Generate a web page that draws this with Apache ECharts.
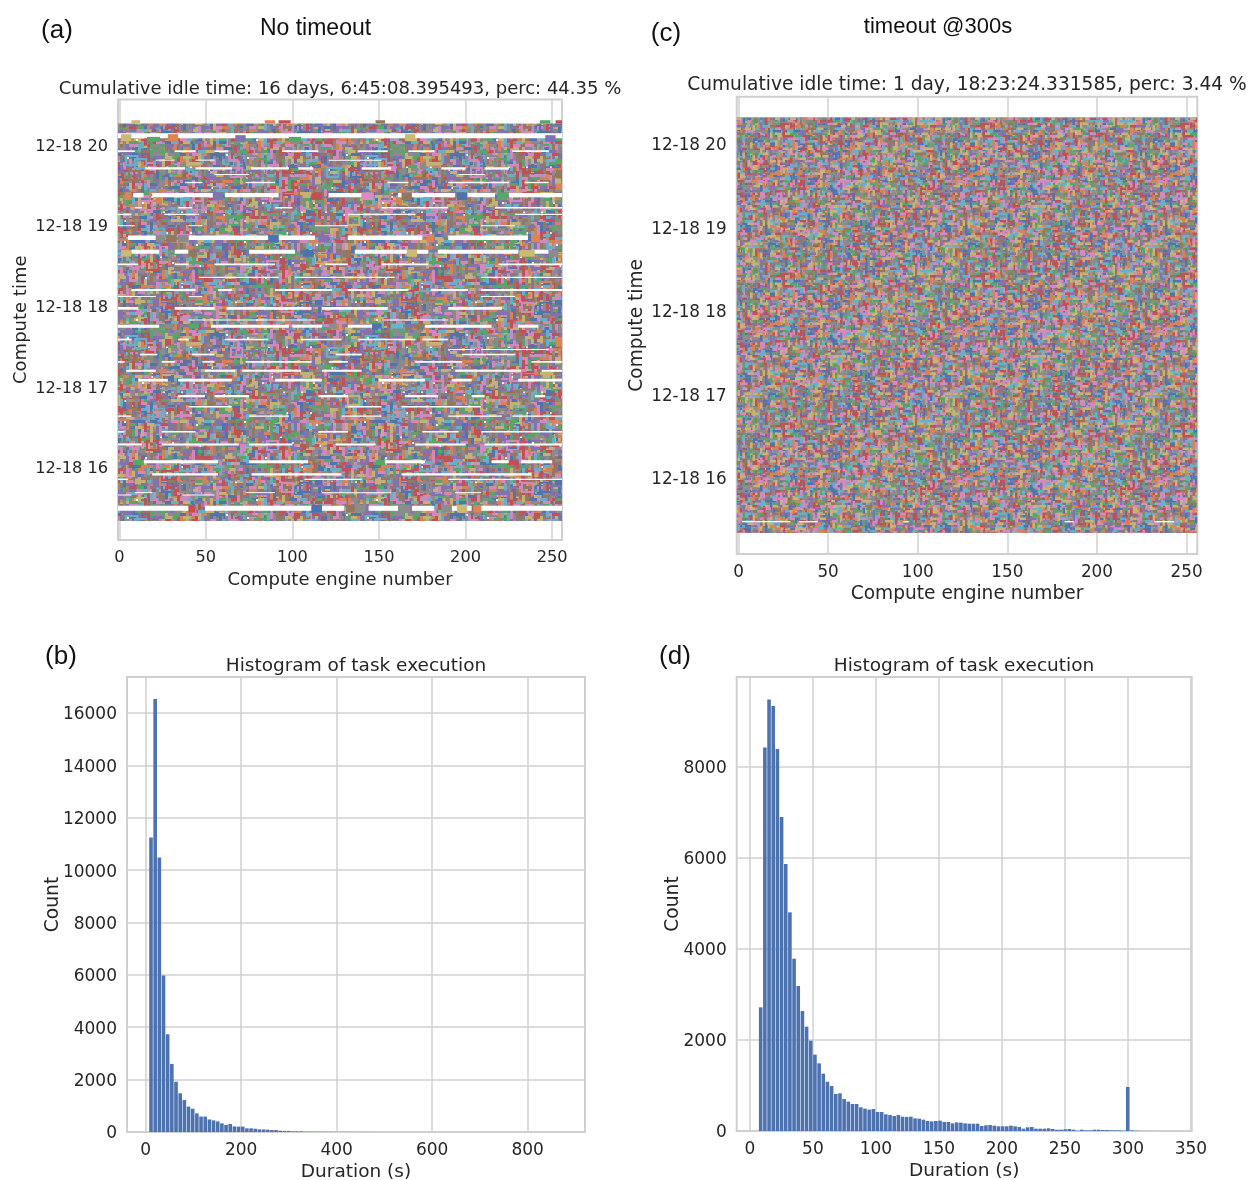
<!DOCTYPE html>
<html><head><meta charset="utf-8">
<style>html,body{margin:0;padding:0;background:#fff}#c{width:1251px;height:1180px}</style>
<script src="https://cdn.jsdelivr.net/npm/echarts@6/dist/echarts.min.js"></script>
</head><body><div id="c"></div>
<script>
// Tick values and labels
const engineTicks = [0, 50, 100, 150, 200, 250];
const hourTicks = [16, 17, 18, 19, 20];
const durationTicksB = [0, 200, 400, 600, 800];
const durationTicksD = [0, 50, 100, 150, 200, 250, 300, 350];
const countTicksB = [0, 2000, 4000, 6000, 8000, 10000, 12000, 14000, 16000];
const countTicksD = [0, 2000, 4000, 6000, 8000];

// Histogram counts (estimates)
const histStartB = 6.9, histBinB = 8.73;
const countsB = [11250,16530,10480,5980,3730,2600,1920,1480,1220,970,890,710,590,590,480,445,405,330,270,305,215,205,205,140,140,125,100,100,90,75,75,50,40,40,25,25,25,12,12,10,10,8,8,6,6,5,5,4,4,3,3,3,2,2,2,2,1,1,1,1,1,1,1,1,1,1,0,0,0,0,0,0,0,0,0,0,0,0,0,0,0,0,0,0,0,0,0,0,0,0,0,0,0,0,0,0,0,0,0,0];
const histStartD = 6.9, histBinD = 3.31;
const countsD = [2718,8430,9486,9340,8395,6901,5868,4806,3787,3187,2637,2293,1985,1678,1487,1260,1084,989,813,828,703,645,593,593,520,491,469,484,418,418,366,352,330,352,315,308,315,278,271,249,220,212,220,227,198,198,168,190,183,168,161,161,161,110,125,132,117,103,103,103,117,103,88,51,81,88,51,51,51,59,44,29,29,37,44,29,7,29,15,15,29,29,22,22,15,15,15,7,968,15,7,3,2,1,1,0,0,0,0,0];

// Busy extent of the task panels: [firstEngine, lastEngine, topHour, bottomHour]
const busyA = [[-0.75, 255.7, 20.272, 15.344]];
const busyC = [[-1, 256, 20.32, 15.34]];

// Panel (a) idle gaps: hour, thickness in hours, engine spans
const gapHoursA = [20.119,19.929,19.818,19.715,19.640,19.541,19.385,19.228,19.145,19.005,18.856,18.683,18.526,18.365,18.208,18.126,17.981,17.836,17.759,17.594,17.470,17.408,17.317,17.206,17.090,16.892,16.760,16.644,16.450,16.293,16.079,15.922,15.860,15.695,15.666,15.501];
const gapThickA = [.062,.021,.012,.029,.012,.017,.054,.017,.017,.012,.058,.050,.021,.017,.025,.012,.033,.012,.037,.021,.012,.021,.021,.025,.033,.029,.017,.017,.021,.025,.037,.029,.017,.012,.012,.062];
const gapSpansA = [
 [[-0.75,255.7]],
 [[-0.75,9],[32,44],[55,63],[94,115],[138,155],[167,182],[227,248]],
 [[21,32],[44,55],[121,151.5]],
 [[15,38],[44,65],[76,98],[103.4,112],[140,157],[186,200],[211,225]],
 [[55,75],[196,211]],
 [[38,48],[73,90],[155,167],[190,225],[234,248]],
 [[8,14],[19,55],[61,92],[121,140],[161,194],[201,217],[225,255.7]],
 [[9,13],[34,42],[90,100],[151.5,190],[217,255.7]],
 [[-0.75,7],[26,46],[132,171],[228.5,255.7]],
 [[-0.75,9],[40,48],[113,132],[209,228.5]],
 [[5,23],[40,86],[92,113],[132,175],[190,236]],
 [[7,23],[32,40],[75,101.5],[136,178.5],[184,230.4],[238,248]],
 [[-0.75,11],[32,40],[55,90],[119,132],[151.5,178.5],[219,255.7]],
 [[46,92],[101.5,159],[209,255.7]],
 [[7,44],[57,65],[90,123],[132,167],[180,201.5],[209,255.7]],
 [[-0.75,21],[40,48],[209,228.5]],
 [[-0.75,11],[32,55],[62,111],[117,155],[190,221]],
 [[40,113],[151.5,190]],
 [[-0.75,23],[53,98],[100,117],[132,146],[176.5,215],[230.4,242]],
 [[-0.75,7],[34,40],[61,86],[105,128.4],[138,171],[175,190]],
 [[190,205.4],[209,248]],
 [[12,22],[42,55],[125,140],[198,228.5]],
 [[-0.75,3],[24.5,32],[48,55],[73,111],[121,132],[171,198],[238,255.7]],
 [[4,21],[49.5,67],[71,105],[117,140],[194,232],[244,255.7]],
 [[11,28],[34,65],[90,117],[150,176.5],[192,203.5],[230.4,255.7]],
 [[34,49.5],[55,75],[115,132],[165,184],[203.5,211],[240,246]],
 [[40,65],[132,151.5],[163,209]],
 [[-0.75,7],[75,98],[128.4,151.5],[190,221],[227,255.7]],
 [[-0.75,3],[24.5,44],[115,132],[175,196],[209,255.7]],
 [[-0.75,13],[24.5,69],[75,100],[125,148],[171,200],[211,255.7]],
 [[14,57],[75,109],[153,176.5],[215,225],[232,250]],
 [[19,57],[76.4,128.4],[163,238]],
 [[-0.75,5],[107,140],[190,255.7]],
 [[9,19],[73,90],[117,157],[194,209]],
 [[-0.75,7],[36,55]],
 [[-0.75,40],[49.5,111],[117,130],[144,161],[169,182],[192,203.5],[209,255.7]]
];

// Panel (c) idle gaps: one thin row near the bottom
const gapHoursC = [15.477];
const gapThickC = [.016];
const gapSpansC = [[[2,29],[34,44],[92,95],[182,187],[232,243]]];

// Largest individually visible task blocks in panel (a): [engineFrom, engineTo, hourTop, hourBottom, paletteIndex]
const blocksA = [
 [7,12,20.313,20.272,8],[84,90,20.313,20.272,1],[92,99,20.313,20.272,3],[148,153.5,20.313,20.272,5],[243,249,20.313,20.272,2],[252,255.7,20.313,20.272,3],
 [1,7,20.14,20.053,8],[28,34,20.14,20.053,1],[165,171,20.14,20.053,8],[16,23.5,20.107,20.045,2],[98,105,20.107,20.045,2],[67,73,20.128,20.045,4],[246,252,20.128,20.045,4],
 [3,7,19.418,19.323,1],[54,60,19.418,19.323,4],[111,117,19.418,19.323,3],[140,147,19.418,19.323,6],[195,201,19.418,19.323,0],[218,224,19.418,19.323,2],[163,169,19.418,19.323,5],
 [27,33,18.889,18.798,5],[34,40,18.889,18.798,7],[86,92,18.889,18.798,0],[115,121,18.889,18.798,4],[177.5,182,18.889,18.798,1],[238,243,18.889,18.798,1],[21,26,18.889,18.798,7],
 [1,7,18.703,18.621,8],[106,112,18.703,18.621,0],[129,134,18.703,18.621,5],[166,172,18.703,18.621,8],[231,240,18.703,18.621,8],[248,253.5,18.703,18.621,7],[40,45,18.703,18.621,5],
 [40,46,17.792,17.73,2],[146,151.5,17.792,17.73,0],[157,164,17.792,17.73,9],[121,125.5,17.792,17.73,7],[170,176,17.792,17.73,5],[26,31,17.792,17.73,7],
 [8,14,16.099,16.037,2],[225,230,16.099,16.037,3],[148,153.5,16.099,16.037,2],
 [40,44,15.542,15.447,3],[111,117,15.542,15.447,0],[131,136,15.542,15.447,5],[136,142,15.542,15.447,7],[162,168,15.542,15.447,7],[186,192,15.542,15.447,7],[195,201,15.542,15.447,8],[204.5,209,15.542,15.447,1],
 [252,255.7,17.627,17.503,1],[252,255.7,19.694,19.591,5],[252,255.7,19.529,19.446,1],[252,255.7,19.839,19.777,2]
];

// Fill texture for the task areas (a style, not data: single tasks are not readable in the picture)
const palette = ['#4c72b0','#dd8452','#55a868','#c44e52','#8172b3','#937860','#da8bc3','#8c8c8c','#ccb974','#64b5cd'];
const textureA = [
'5564473061225547703968456610754328560472',
'5764413061725547783968450610754328567472',
'7764419364725003783118450677054990567431',
'7305419364763003256118927677054990213431',
'8305644764763470256486927234661750213706',
'8352644715063470849486027234661752963706',
'0352760715063652849436027849361752963145',
'0675760433896652710436557849361037451145',
'4675127433896218710794557206844037451678',
'4893127566014218635794163206844295316678',
'6893450566014746635028163597210295316042',
'6715450782564746957028749597210683745042',
'3715632782564890957561749314675683745928',
'3240632170396890423561206314675401956928',
'5240718170396542423837206860347401956317',
'5968718453027542196837450860347729364317',
'7968245453027613196650450947513729364580',
'7136245669748613780650387947513056427580',
'4136593669748025780412387623056056427896',
'4502593314861025469412965623056873149896',
'8502167314861970469738965075842873149253',
'8794167025637970312738041075842509136253',
'6794308025637468312964041938751509136407',
'6125308946570468587964273938751642980407',
'3125746946570391587601273486120642980735',
'3680746213459391204601758486120357694735',
'9680571213459756204843758264937357694012',
'9347571680923756918843562264937106485012',
'5347826680923104918270562775309106485369',
'5761826354719104643270189775309248753369'
];
const textureC = [
'3962147085361927408513690247586319027468',
'3962147685361927408513696247186319527468',
'3762847685961327468513696247186819527408',
'1762847605961347468293696147086819523408',
'1568347605261347168293016147086412523958',
'8568397145261957168743016527486412763958',
'8430397145071957236743812527486905763102',
'6430591723071684236905812361974905284102',
'6927591723485684193905247361974730284675',
'4927036158485201193862247850263730916675',
'4183036158692201758862394850263158916047',
'9183745620692431758017394728195158342047',
'9526745620317431062017586728195649342831',
'7526180943317895062543586403972649750831',
'7064180943528895317543201403972026750596',
'2064938716528140317689201365814026184596',
'2783938716094140625689473365814973184260',
'5783204561094376625120473290761973628260',
'5619204561837376948120856290761340628719',
'0619783425837592948367856142530340957719',
'0347783425160592183367924142530861957384',
'8347619082160748183506924879346861205384',
'8952619082743748670506317879346127205693',
'3952046871743216670892317560928127468693',
'3168046871529216394892045560928753468120',
'6168390754529803394713045231789753096120',
'6405390754186803527713962231789408096537',
'1405827369186945527640962754016408312537',
'1732827369450945083640178754016592312894',
'9732651048450276083259178063492592746894'
];

// Build a softened repeating pattern of overlapping stubs (and optional frames) from a texture table.
// The table is walked twice over so the tile is larger and repeats less visibly.
function makePattern(rows, cell, longSide, blur, frames, wash) {
  const nC = rows[0].length * 2, nR = rows.length * 2;
  const n = rows.length, m = rows[0].length;
  const W = Math.round(nC * cell), H = Math.round(nR * cell);
  const base = document.createElement('canvas');
  base.width = W; base.height = H;
  const g = base.getContext('2d');
  // visit every cell in an order taken from the table so that stubs overlap unevenly
  const cells = [];
  for (let r = 0; r < nR; r++) for (let k = 0; k < nC; k++) {
    const a = +rows[(r * 7 + k * 3) % n][(k * 11 + r * 5) % m];
    const b = +rows[(r * 13 + k) % n][(k * 7 + r * 3) % m];
    const c = +rows[(r + k * 9) % n][(k + r * 17) % m];
    cells.push([a * 100 + b * 10 + c, r, k, a, b, c]);
  }
  cells.sort((p, q) => p[0] - q[0]);
  cells.forEach(([, r, k, a, b, c]) => {
    const x = k * cell, y = r * cell;
    g.fillStyle = g.strokeStyle = palette[b];
    for (const ox of [0, -W]) for (const oy of [0, -H]) {
      if (frames && c === 0 && a % 3 === 0) {
        g.lineWidth = 2;
        g.strokeRect(x + ox, y + oy, longSide * 1.5, longSide * 1.2);
      } else if (c % 2) {
        g.fillRect(x + ox, y + oy, cell, longSide);
      } else {
        g.fillRect(x + ox, y + oy, longSide, cell);
      }
    }
  });
  const cv = document.createElement('canvas');
  cv.width = W; cv.height = H;
  const f = cv.getContext('2d');
  f.filter = 'blur(' + blur + 'px)';
  for (const ox of [-W, 0, W]) for (const oy of [-H, 0, H]) f.drawImage(base, ox, oy);
  f.filter = 'none';
  f.globalAlpha = wash;
  f.fillStyle = '#8f7f8c';
  f.fillRect(0, 0, W, H);
  return { image: cv, repeat: 'repeat' };
}
const patternA = makePattern(textureA, 3, 7.5, 0.6, true, 0.12);
const patternC = makePattern(textureC, 2.5, 6, 0.6, false, 0.08);

function flattenGaps(hours, thick, spans) {
  const out = [];
  hours.forEach((h, i) => spans[i].forEach(s => out.push([s[0], s[1], h + thick[i] / 2, h - thick[i] / 2])));
  return out;
}
function rectSeries(idx, data, fillFor, z) {
  return {
    type: 'custom', xAxisIndex: idx, yAxisIndex: idx, z: z, silent: true, animation: false,
    encode: { x: [0, 1], y: [2, 3] }, data: data,
    renderItem: (p, api) => {
      const a = api.coord([api.value(0), api.value(2)]);
      const b = api.coord([api.value(1), api.value(3)]);
      return { type: 'rect', shape: { x: a[0], y: a[1], width: b[0] - a[0], height: b[1] - a[1] },
        style: { fill: fillFor(api), stroke: null } };
    }
  };
}
const ink = '#262626';
const dj = 'DejaVu Sans';
const grids = [
  { left: 118, top: 99.5, width: 444, height: 440.5 },
  { left: 127, top: 677, width: 458, height: 455 },
  { left: 736.7, top: 96.7, width: 460.6, height: 457.3 },
  { left: 736.7, top: 677, width: 455, height: 454 }
].map(g => Object.assign(g, { show: true, borderColor: '#cfcfcf', borderWidth: 2, backgroundColor: '#fff', outerBoundsMode: 'none', containLabel: false }));

function xAxisOf(i, min, max, ticks, name, fs, nfs, gap) {
  return { gridIndex: i, type: 'value', min, max, name, nameLocation: 'middle', nameGap: gap, nameMoveOverlap: false,
    nameTextStyle: { color: ink, fontFamily: dj, fontSize: nfs },
    axisLine: { show: false }, axisTick: { show: false, customValues: ticks },
    axisLabel: { customValues: ticks, color: ink, fontFamily: dj, fontSize: fs, margin: 10, formatter: v => String(v) },
    splitLine: { show: true, lineStyle: { color: '#d0d0d0', width: 1.5 } } };
}
function yAxisOf(i, min, max, ticks, name, fs, nfs, gap, prefix, split, dy) {
  return { gridIndex: i, type: 'value', min, max, name, nameLocation: 'middle', nameGap: gap, nameMoveOverlap: false,
    nameTextStyle: { color: ink, fontFamily: dj, fontSize: nfs },
    axisLine: { show: false }, axisTick: { show: false, customValues: ticks },
    axisLabel: { customValues: ticks, margin: 10, formatter: v => '{t|' + prefix + v + '}',
      rich: { t: { color: ink, fontFamily: dj, fontSize: fs, padding: [dy, 0, 0, 0] } } },
    splitLine: { show: split, lineStyle: { color: '#d0d0d0', width: 1.5 } } };
}
const titleOf = (text, left, top, size, family, color) => ({ text, left, top, textAlign: 'center',
  textStyle: { fontFamily: family, fontSize: size, fontWeight: 'normal', color }, padding: 0 });
const hel = 'Liberation Sans';
const chart = echarts.init(document.getElementById('c'), null, { renderer: 'canvas' });
chart.setOption({
  animation: false,
  backgroundColor: '#fff',
  title: [
    titleOf('(a)', 57, 18, 26, hel, '#111'),
    titleOf('(c)', 666, 21, 26, hel, '#111'),
    titleOf('(b)', 61, 644, 26, hel, '#111'),
    titleOf('(d)', 675, 644, 26, hel, '#111'),
    titleOf('No timeout', 315.5, 17, 23, hel, '#111'),
    titleOf('timeout @300s', 938, 16, 22, hel, '#111'),
    titleOf('Cumulative idle time: 16 days, 6:45:08.395493, perc: 44.35 %', 340, 80, 18, dj, ink),
    titleOf('Cumulative idle time: 1 day, 18:23:24.331585, perc: 3.44 %', 967, 76, 18.6, dj, ink),
    titleOf('Histogram of task execution', 356, 657, 18.5, dj, ink),
    titleOf('Histogram of task execution', 964, 657, 18.5, dj, ink)
  ],
  grid: grids,
  xAxis: [
    xAxisOf(0, -0.75, 255.7, engineTicks, 'Compute engine number', 16.2, 18, 31),
    xAxisOf(1, -39, 920, durationTicksB, 'Duration (s)', 17, 18.5, 31),
    xAxisOf(2, -1, 256, engineTicks, 'Compute engine number', 16.8, 18.6, 31),
    xAxisOf(3, -10.5, 350.6, durationTicksD, 'Duration (s)', 17, 18.5, 31)
  ],
  yAxis: [
    yAxisOf(0, 15.108, 20.57, hourTicks, 'Compute time', 16.2, 18, 88, '12-18 ', false, 2),
    yAxisOf(1, 0, 17374, countTicksB, 'Count', 17, 18.7, 64, '', true, 4),
    yAxisOf(2, 15.09, 20.566, hourTicks, 'Compute time', 16.8, 18.6, 90, '12-18 ', false, 4),
    yAxisOf(3, 0, 9978, countTicksD, 'Count', 17, 18.7, 54, '', true, 4)
  ],
  series: [
    rectSeries(0, busyA, () => patternA, 2),
    rectSeries(0, flattenGaps(gapHoursA, gapThickA, gapSpansA), () => '#fff', 3),
    rectSeries(0, blocksA, api => palette[api.value(4)], 4),
    rectSeries(2, busyC, () => patternC, 2),
    rectSeries(2, flattenGaps(gapHoursC, gapThickC, gapSpansC), () => '#fff', 3),
    { type: 'bar', xAxisIndex: 1, yAxisIndex: 1, barWidth: 3.6, z: 3, animation: false,
      itemStyle: { color: '#4c72b0' },
      data: countsB.map((v, i) => [histStartB + (i + .5) * histBinB, v]) },
    { type: 'bar', xAxisIndex: 3, yAxisIndex: 3, barWidth: 3.6, z: 3, animation: false,
      itemStyle: { color: '#4c72b0' },
      data: countsD.map((v, i) => [histStartD + (i + .5) * histBinD, v]) }
  ]
});
</script></body></html>
